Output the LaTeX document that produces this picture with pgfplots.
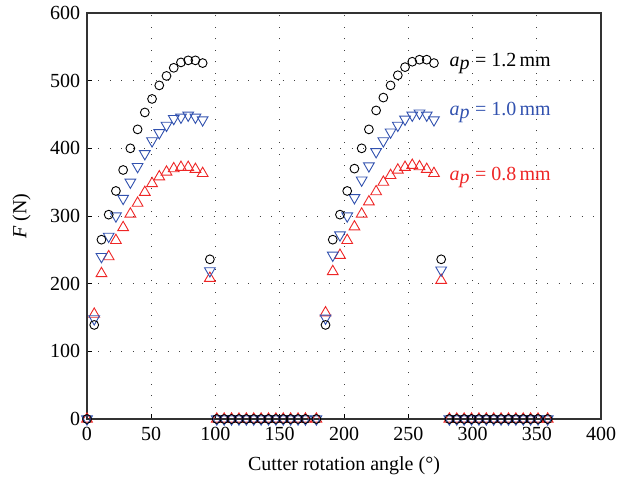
\documentclass[border=0pt]{standalone}
\usepackage{pgfplots}
\pgfplotsset{compat=1.18}
\usepackage{fontspec}
\setmainfont{Liberation Serif}

\definecolor{cblue}{RGB}{50,82,175}
\definecolor{cred}{RGB}{238,38,38}

\begin{document}
\fontsize{20}{24}\selectfont
\begin{tikzpicture}
\begin{axis}[
    scale only axis,
    width=514pt, height=406pt,
    xmin=0, xmax=400, ymin=0, ymax=600,
    xtick={0,50,...,400}, ytick={0,100,...,600},
    xtick pos=left, ytick pos=left,
    tick align=inside,
    major tick length=5pt,
    tick style={black, line width=0.8pt},
    axis line style={black!80, line width=1.2pt},
    grid=major,
    major grid style={black!75, line width=0.9pt, dash pattern=on 1pt off 10.5pt},
    /pgf/number format/assume math mode=true,
    ticklabel style={font=\fontsize{20}{24}\selectfont},
    xticklabel style={yshift=-1pt},
    xlabel={Cutter rotation angle (°)},
    ylabel={\textit{F} (N)},
    label style={font=\fontsize{20}{24}\selectfont},
    xlabel style={yshift=-3pt},
    ylabel style={yshift=6pt},
    clip=false,
    only marks,
]
% a_p = 0.8 mm
\addplot[cred, mark=triangle, mark size=6.2pt, mark options={line width=0.9pt}] coordinates {
    (0,0)
    (5.625,155) (11.25,215) (16.875,240) (22.5,264) (28.125,283) (33.75,303)
    (39.375,319) (45,335) (50.625,348) (56.25,358) (61.875,365) (67.5,370)
    (73.125,372) (78.75,372) (84.375,369) (90,363) (95.625,208)
    (101,0) (106.75,0) (112.5,0) (118.25,0) (124,0) (129.75,0) (135.5,0)
    (141.25,0) (147,0) (152.75,0) (158.5,0) (164.25,0) (170,0) (178.5,0)
    (185.625,157) (191.25,218) (196.875,242) (202.5,264) (208.125,284) (213.75,303)
    (219.375,321) (225,336) (230.625,350) (236.25,360) (241.875,368) (247.5,372)
    (253.125,375) (258.75,373) (264.375,369) (270,363) (275.625,205)
    (282,0) (287.75,0) (293.5,0) (299.25,0) (305,0) (310.75,0) (316.5,0)
    (322.25,0) (328,0) (333.75,0) (339.5,0) (345.25,0) (351,0) (358.5,0)
};
% a_p = 1.0 mm
\addplot[cblue, mark=triangle, mark size=6.2pt, mark options={line width=0.9pt, rotate=180}] coordinates {
    (0,0)
    (5.625,148) (11.25,240) (16.875,270) (22.5,300) (28.125,326) (33.75,350)
    (39.375,373) (45,392) (50.625,411) (56.25,423) (61.875,434) (67.5,444)
    (73.125,446) (78.75,449) (84.375,446) (90,442) (95.625,219)
    (101,0) (106.75,0) (112.5,0) (118.25,0) (124,0) (129.75,0) (135.5,0)
    (141.25,0) (147,0) (152.75,0) (158.5,0) (164.25,0) (170,0) (178.5,0)
    (185.625,149) (191.25,242) (196.875,272) (202.5,300) (208.125,327) (213.75,353)
    (219.375,374) (225,395) (230.625,411) (236.25,424) (241.875,434) (247.5,443)
    (253.125,449) (258.75,452) (264.375,449) (270,442) (275.625,220)
    (282,0) (287.75,0) (293.5,0) (299.25,0) (305,0) (310.75,0) (316.5,0)
    (322.25,0) (328,0) (333.75,0) (339.5,0) (345.25,0) (351,0) (358.5,0)
};
% a_p = 1.2 mm
\addplot[black, mark=o, mark size=4.4pt, mark options={line width=0.9pt}] coordinates {
    (0,0)
    (5.625,139) (11.25,265) (16.875,302) (22.5,337) (28.125,368) (33.75,400)
    (39.375,428) (45,453) (50.625,473) (56.25,493) (61.875,507) (67.5,519)
    (73.125,527) (78.75,530) (84.375,530) (90,526) (95.625,236)
    (101,0) (106.75,0) (112.5,0) (118.25,0) (124,0) (129.75,0) (135.5,0)
    (141.25,0) (147,0) (152.75,0) (158.5,0) (164.25,0) (170,0) (178.5,0)
    (185.625,139) (191.25,265) (196.875,302) (202.5,337) (208.125,370) (213.75,400)
    (219.375,428) (225,456) (230.625,475) (236.25,493) (241.875,508) (247.5,520)
    (253.125,528) (258.75,531) (264.375,531) (270,526) (275.625,236)
    (282,0) (287.75,0) (293.5,0) (299.25,0) (305,0) (310.75,0) (316.5,0)
    (322.25,0) (328,0) (333.75,0) (339.5,0) (345.25,0) (351,0) (358.5,0)
};
\node[anchor=west, inner sep=0pt, black] at (axis cs:282,526) {\textit{a}$_{\textit{p}}$ = 1.2\,mm};
\node[anchor=west, inner sep=0pt, cblue] at (axis cs:282,453) {\textit{a}$_{\textit{p}}$ = 1.0\,mm};
\node[anchor=west, inner sep=0pt, cred] at (axis cs:282,357) {\textit{a}$_{\textit{p}}$ = 0.8\,mm};
\end{axis}
\pgfresetboundingbox
\path (-87pt,-66pt) rectangle (542pt,419pt);
\end{tikzpicture}
\end{document}
